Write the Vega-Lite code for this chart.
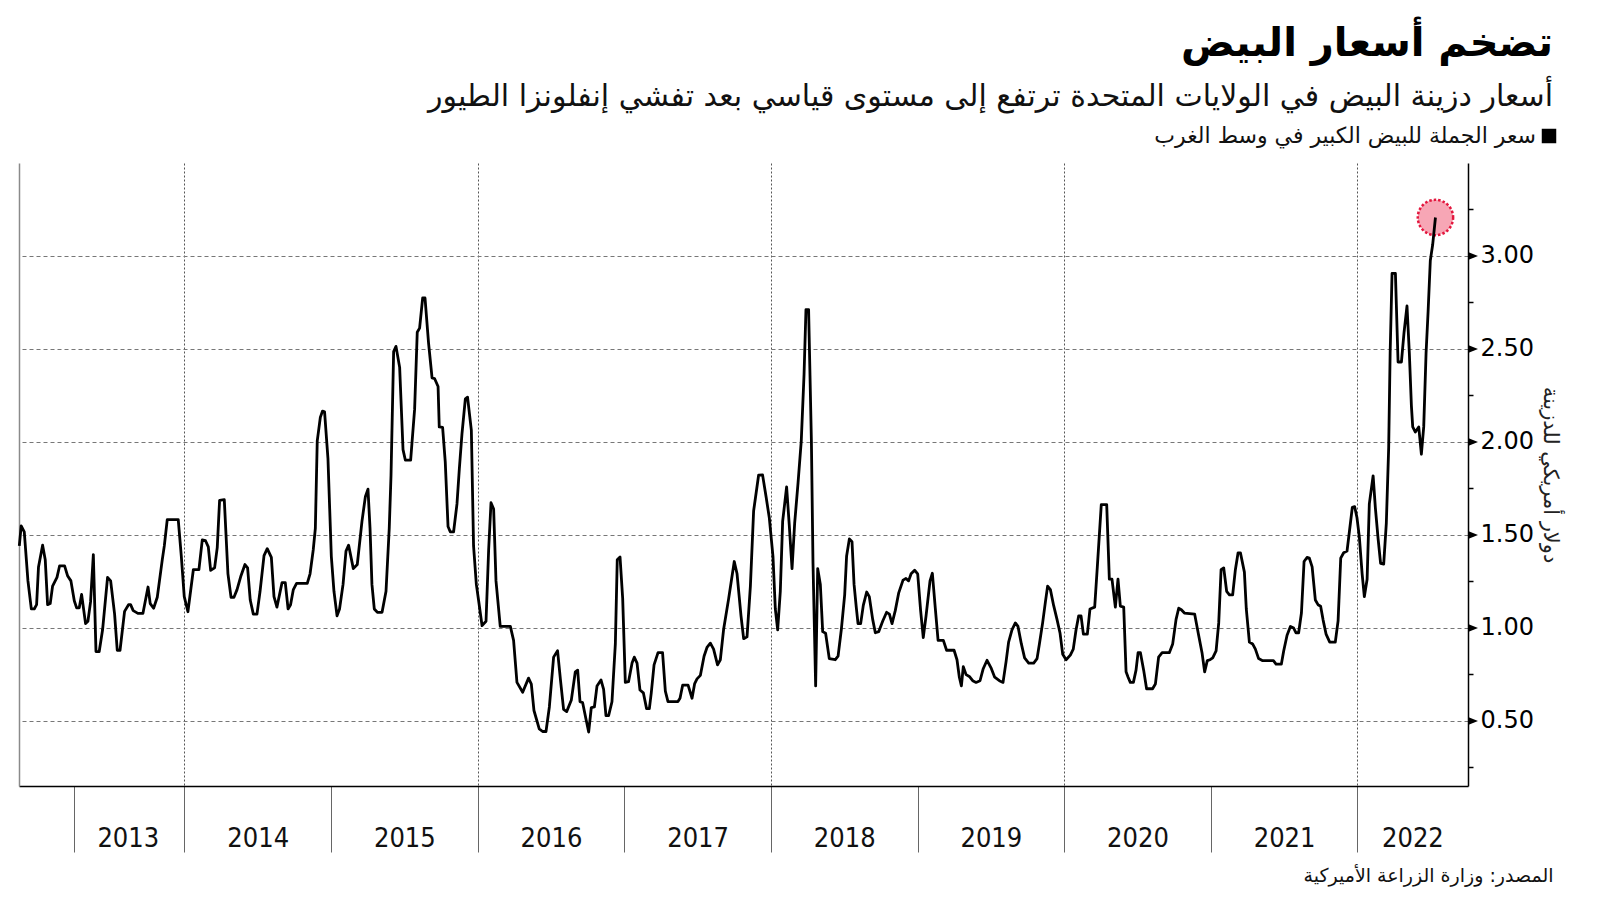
{
  "$schema": "https://vega.github.io/schema/vega-lite/v6.json",
  "width": 1449,
  "height": 623,
  "autosize": {"type": "none"},
  "padding": {"left": 19, "top": 163, "right": 132, "bottom": 115},
  "background": "white",
  "config": {"view": {"stroke": null}, "font": "DejaVu Sans", "axis": {"labelFlush": false, "labelOverlap": false}},
  "title": {
    "text": "تضخم أسعار البيض",
    "subtitle": "أسعار دزينة البيض في الولايات المتحدة ترتفع إلى مستوى قياسي بعد تفشي إنفلونزا الطيور",
    "anchor": "end",
    "frame": "group",
    "orient": "top",
    "font": "DejaVu Sans",
    "fontSize": 40,
    "fontWeight": "bold",
    "color": "#000000",
    "subtitleFont": "DejaVu Sans",
    "subtitleFontSize": 30,
    "subtitleColor": "#111111",
    "subtitlePadding": 18,
    "dx": 85,
    "offset": 13
  },
  "datasets": {
    "prices": [
      {"year": 2012.874, "price": 1.441}, {"year": 2012.887, "price": 1.549}, {"year": 2012.908, "price": 1.517}, {"year": 2012.933, "price": 1.253}, {"year": 2012.956, "price": 1.102}, {"year": 2012.976, "price": 1.102}, {"year": 2012.992, "price": 1.125}, {"year": 2013.005, "price": 1.328}, {"year": 2013.033, "price": 1.445}, {"year": 2013.051, "price": 1.366}, {"year": 2013.067, "price": 1.125}, {"year": 2013.085, "price": 1.131}, {"year": 2013.101, "price": 1.225}, {"year": 2013.131, "price": 1.272}, {"year": 2013.149, "price": 1.334}, {"year": 2013.183, "price": 1.334}, {"year": 2013.203, "price": 1.281}, {"year": 2013.226, "price": 1.253}, {"year": 2013.249, "price": 1.146}, {"year": 2013.265, "price": 1.108}, {"year": 2013.283, "price": 1.108}, {"year": 2013.299, "price": 1.18}, {"year": 2013.326, "price": 1.023}, {"year": 2013.342, "price": 1.036}, {"year": 2013.36, "price": 1.14}, {"year": 2013.379, "price": 1.394}, {"year": 2013.397, "price": 0.873}, {"year": 2013.419, "price": 0.873}, {"year": 2013.442, "price": 0.99}, {"year": 2013.476, "price": 1.272}, {"year": 2013.497, "price": 1.253}, {"year": 2013.524, "price": 1.074}, {"year": 2013.542, "price": 0.88}, {"year": 2013.561, "price": 0.88}, {"year": 2013.592, "price": 1.089}, {"year": 2013.619, "price": 1.125}, {"year": 2013.633, "price": 1.125}, {"year": 2013.651, "price": 1.093}, {"year": 2013.683, "price": 1.078}, {"year": 2013.717, "price": 1.078}, {"year": 2013.752, "price": 1.22}, {"year": 2013.767, "price": 1.131}, {"year": 2013.79, "price": 1.106}, {"year": 2013.815, "price": 1.165}, {"year": 2013.849, "price": 1.366}, {"year": 2013.863, "price": 1.441}, {"year": 2013.883, "price": 1.582}, {"year": 2013.958, "price": 1.582}, {"year": 2013.979, "price": 1.385}, {"year": 2013.999, "price": 1.168}, {"year": 2014.024, "price": 1.087}, {"year": 2014.061, "price": 1.313}, {"year": 2014.099, "price": 1.313}, {"year": 2014.122, "price": 1.473}, {"year": 2014.144, "price": 1.469}, {"year": 2014.163, "price": 1.436}, {"year": 2014.179, "price": 1.31}, {"year": 2014.206, "price": 1.323}, {"year": 2014.224, "price": 1.432}, {"year": 2014.24, "price": 1.686}, {"year": 2014.272, "price": 1.69},
      {"year": 2014.297, "price": 1.291}, {"year": 2014.318, "price": 1.165}, {"year": 2014.338, "price": 1.165}, {"year": 2014.359, "price": 1.206}, {"year": 2014.386, "price": 1.281}, {"year": 2014.413, "price": 1.341}, {"year": 2014.431, "price": 1.323}, {"year": 2014.449, "price": 1.15}, {"year": 2014.47, "price": 1.074}, {"year": 2014.495, "price": 1.074}, {"year": 2014.516, "price": 1.197}, {"year": 2014.543, "price": 1.389}, {"year": 2014.565, "price": 1.426}, {"year": 2014.593, "price": 1.379}, {"year": 2014.611, "price": 1.168}, {"year": 2014.631, "price": 1.112}, {"year": 2014.666, "price": 1.244}, {"year": 2014.688, "price": 1.244}, {"year": 2014.707, "price": 1.102}, {"year": 2014.724, "price": 1.125}, {"year": 2014.743, "price": 1.206}, {"year": 2014.765, "price": 1.24}, {"year": 2014.838, "price": 1.24}, {"year": 2014.857, "price": 1.291}, {"year": 2014.879, "price": 1.422}, {"year": 2014.893, "price": 1.535}, {"year": 2014.906, "price": 2.006}, {"year": 2014.927, "price": 2.132}, {"year": 2014.942, "price": 2.166}, {"year": 2014.956, "price": 2.162}, {"year": 2014.979, "price": 1.912}, {"year": 2015.002, "price": 1.385}, {"year": 2015.02, "price": 1.197}, {"year": 2015.041, "price": 1.065}, {"year": 2015.058, "price": 1.102}, {"year": 2015.082, "price": 1.234}, {"year": 2015.102, "price": 1.413}, {"year": 2015.12, "price": 1.445}, {"year": 2015.152, "price": 1.319}, {"year": 2015.179, "price": 1.341}, {"year": 2015.211, "price": 1.573}, {"year": 2015.234, "price": 1.705}, {"year": 2015.252, "price": 1.746}, {"year": 2015.266, "price": 1.535}, {"year": 2015.279, "price": 1.234}, {"year": 2015.295, "price": 1.102}, {"year": 2015.316, "price": 1.084}, {"year": 2015.348, "price": 1.084}, {"year": 2015.375, "price": 1.197}, {"year": 2015.397, "price": 1.535}, {"year": 2015.409, "price": 1.818}, {"year": 2015.427, "price": 2.486}, {"year": 2015.443, "price": 2.514}, {"year": 2015.468, "price": 2.401}, {"year": 2015.491, "price": 1.959}, {"year": 2015.507, "price": 1.902}, {"year": 2015.543, "price": 1.902}, {"year": 2015.57, "price": 2.175}, {"year": 2015.588, "price": 2.59}, {"year": 2015.604, "price": 2.612}, {"year": 2015.625, "price": 2.774}, {"year": 2015.641, "price": 2.774}, {"year": 2015.665, "price": 2.533}, {"year": 2015.689, "price": 2.345}, {"year": 2015.706, "price": 2.341}, {"year": 2015.73, "price": 2.298}, {"year": 2015.738, "price": 2.081}, {"year": 2015.761, "price": 2.078}, {"year": 2015.779, "price": 1.893}, {"year": 2015.798, "price": 1.545}, {"year": 2015.813, "price": 1.517}, {"year": 2015.836, "price": 1.517}, {"year": 2015.859, "price": 1.667}, {"year": 2015.875, "price": 1.855}, {"year": 2015.893, "price": 2.044}, {"year": 2015.916, "price": 2.232}, {"year": 2015.931, "price": 2.241}, {"year": 2015.957, "price": 2.062}, {"year": 2015.972, "price": 1.441}, {"year": 2015.991, "price": 1.234},
      {"year": 2016.006, "price": 1.15}, {"year": 2016.03, "price": 1.012}, {"year": 2016.057, "price": 1.036}, {"year": 2016.075, "price": 1.422}, {"year": 2016.091, "price": 1.673}, {"year": 2016.109, "price": 1.639}, {"year": 2016.125, "price": 1.253}, {"year": 2016.154, "price": 1.008}, {"year": 2016.223, "price": 1.008}, {"year": 2016.245, "price": 0.933}, {"year": 2016.268, "price": 0.707}, {"year": 2016.307, "price": 0.654}, {"year": 2016.347, "price": 0.73}, {"year": 2016.366, "price": 0.698}, {"year": 2016.384, "price": 0.556}, {"year": 2016.42, "price": 0.457}, {"year": 2016.443, "price": 0.443}, {"year": 2016.466, "price": 0.443}, {"year": 2016.489, "price": 0.575}, {"year": 2016.518, "price": 0.843}, {"year": 2016.545, "price": 0.877}, {"year": 2016.564, "price": 0.726}, {"year": 2016.586, "price": 0.562}, {"year": 2016.607, "price": 0.55}, {"year": 2016.639, "price": 0.613}, {"year": 2016.666, "price": 0.764}, {"year": 2016.682, "price": 0.773}, {"year": 2016.698, "price": 0.603}, {"year": 2016.716, "price": 0.598}, {"year": 2016.739, "price": 0.509}, {"year": 2016.757, "price": 0.44}, {"year": 2016.775, "price": 0.572}, {"year": 2016.796, "price": 0.575}, {"year": 2016.814, "price": 0.688}, {"year": 2016.841, "price": 0.72}, {"year": 2016.859, "price": 0.669}, {"year": 2016.875, "price": 0.528}, {"year": 2016.893, "price": 0.528}, {"year": 2016.916, "price": 0.603}, {"year": 2016.939, "price": 0.914}, {"year": 2016.952, "price": 1.366}, {"year": 2016.971, "price": 1.381}, {"year": 2016.989, "price": 1.159},
      {"year": 2017.007, "price": 0.707}, {"year": 2017.029, "price": 0.711}, {"year": 2017.053, "price": 0.811}, {"year": 2017.068, "price": 0.843}, {"year": 2017.087, "price": 0.811}, {"year": 2017.107, "price": 0.666}, {"year": 2017.13, "price": 0.651}, {"year": 2017.152, "price": 0.566}, {"year": 2017.171, "price": 0.566}, {"year": 2017.184, "price": 0.651}, {"year": 2017.203, "price": 0.801}, {"year": 2017.23, "price": 0.867}, {"year": 2017.261, "price": 0.867}, {"year": 2017.28, "price": 0.66}, {"year": 2017.298, "price": 0.604}, {"year": 2017.366, "price": 0.604}, {"year": 2017.38, "price": 0.622}, {"year": 2017.398, "price": 0.692}, {"year": 2017.435, "price": 0.692}, {"year": 2017.462, "price": 0.622}, {"year": 2017.48, "price": 0.701}, {"year": 2017.496, "price": 0.726}, {"year": 2017.519, "price": 0.745}, {"year": 2017.544, "price": 0.848}, {"year": 2017.564, "price": 0.895}, {"year": 2017.587, "price": 0.918}, {"year": 2017.609, "price": 0.886}, {"year": 2017.636, "price": 0.801}, {"year": 2017.655, "price": 0.829}, {"year": 2017.677, "price": 0.99}, {"year": 2017.712, "price": 1.159}, {"year": 2017.75, "price": 1.357}, {"year": 2017.769, "price": 1.291}, {"year": 2017.796, "price": 1.065}, {"year": 2017.814, "price": 0.942}, {"year": 2017.837, "price": 0.952}, {"year": 2017.86, "price": 1.225}, {"year": 2017.882, "price": 1.629}, {"year": 2017.916, "price": 1.821}, {"year": 2017.943, "price": 1.823}, {"year": 2017.967, "price": 1.705}, {"year": 2017.989, "price": 1.592},
      {"year": 2018.014, "price": 1.385}, {"year": 2018.03, "price": 1.102}, {"year": 2018.046, "price": 0.99}, {"year": 2018.064, "price": 1.197}, {"year": 2018.08, "price": 1.573}, {"year": 2018.107, "price": 1.758}, {"year": 2018.125, "price": 1.554}, {"year": 2018.144, "price": 1.319}, {"year": 2018.162, "price": 1.564}, {"year": 2018.185, "price": 1.78}, {"year": 2018.207, "price": 2.006}, {"year": 2018.226, "price": 2.364}, {"year": 2018.239, "price": 2.712}, {"year": 2018.257, "price": 2.712}, {"year": 2018.276, "price": 2.006}, {"year": 2018.287, "price": 1.347}, {"year": 2018.305, "price": 0.688}, {"year": 2018.319, "price": 1.319}, {"year": 2018.337, "price": 1.234}, {"year": 2018.353, "price": 0.98}, {"year": 2018.373, "price": 0.971}, {"year": 2018.398, "price": 0.835}, {"year": 2018.439, "price": 0.829}, {"year": 2018.458, "price": 0.848}, {"year": 2018.48, "price": 0.99}, {"year": 2018.503, "price": 1.178}, {"year": 2018.516, "price": 1.385}, {"year": 2018.535, "price": 1.479}, {"year": 2018.553, "price": 1.464}, {"year": 2018.567, "price": 1.234}, {"year": 2018.582, "price": 1.112}, {"year": 2018.594, "price": 1.023}, {"year": 2018.612, "price": 1.023}, {"year": 2018.63, "price": 1.121}, {"year": 2018.653, "price": 1.193}, {"year": 2018.671, "price": 1.168}, {"year": 2018.694, "price": 1.046}, {"year": 2018.712, "price": 0.974}, {"year": 2018.735, "price": 0.98}, {"year": 2018.762, "price": 1.036}, {"year": 2018.789, "price": 1.084}, {"year": 2018.808, "price": 1.074}, {"year": 2018.826, "price": 1.023}, {"year": 2018.848, "price": 1.093}, {"year": 2018.871, "price": 1.187}, {"year": 2018.901, "price": 1.257}, {"year": 2018.921, "price": 1.266}, {"year": 2018.939, "price": 1.253}, {"year": 2018.956, "price": 1.291}, {"year": 2018.98, "price": 1.31},
      {"year": 2019.001, "price": 1.291}, {"year": 2019.021, "price": 1.093}, {"year": 2019.039, "price": 0.948}, {"year": 2019.058, "price": 1.065}, {"year": 2019.085, "price": 1.253}, {"year": 2019.101, "price": 1.294}, {"year": 2019.121, "price": 1.106}, {"year": 2019.14, "price": 0.933}, {"year": 2019.176, "price": 0.933}, {"year": 2019.198, "price": 0.88}, {"year": 2019.249, "price": 0.88}, {"year": 2019.269, "price": 0.829}, {"year": 2019.285, "price": 0.735}, {"year": 2019.299, "price": 0.688}, {"year": 2019.312, "price": 0.792}, {"year": 2019.331, "price": 0.749}, {"year": 2019.353, "price": 0.739}, {"year": 2019.376, "price": 0.716}, {"year": 2019.399, "price": 0.707}, {"year": 2019.426, "price": 0.716}, {"year": 2019.447, "price": 0.779}, {"year": 2019.474, "price": 0.826}, {"year": 2019.503, "price": 0.782}, {"year": 2019.526, "price": 0.735}, {"year": 2019.558, "price": 0.716}, {"year": 2019.583, "price": 0.707}, {"year": 2019.604, "price": 0.82}, {"year": 2019.621, "price": 0.924}, {"year": 2019.644, "price": 0.99}, {"year": 2019.667, "price": 1.027}, {"year": 2019.685, "price": 1.008}, {"year": 2019.708, "price": 0.914}, {"year": 2019.73, "price": 0.839}, {"year": 2019.758, "price": 0.811}, {"year": 2019.792, "price": 0.811}, {"year": 2019.815, "price": 0.835}, {"year": 2019.831, "price": 0.914}, {"year": 2019.853, "price": 1.027}, {"year": 2019.872, "price": 1.14}, {"year": 2019.887, "price": 1.225}, {"year": 2019.906, "price": 1.206}, {"year": 2019.928, "price": 1.121}, {"year": 2019.951, "price": 1.046}, {"year": 2019.972, "price": 0.971}, {"year": 2019.99, "price": 0.858},
      {"year": 2020.013, "price": 0.829}, {"year": 2020.042, "price": 0.854}, {"year": 2020.062, "price": 0.886}, {"year": 2020.081, "price": 0.99}, {"year": 2020.099, "price": 1.065}, {"year": 2020.115, "price": 1.065}, {"year": 2020.131, "price": 0.967}, {"year": 2020.158, "price": 0.967}, {"year": 2020.176, "price": 1.102}, {"year": 2020.208, "price": 1.112}, {"year": 2020.226, "price": 1.328}, {"year": 2020.253, "price": 1.663}, {"year": 2020.29, "price": 1.663}, {"year": 2020.308, "price": 1.262}, {"year": 2020.326, "price": 1.262}, {"year": 2020.349, "price": 1.112}, {"year": 2020.367, "price": 1.262}, {"year": 2020.383, "price": 1.117}, {"year": 2020.406, "price": 1.112}, {"year": 2020.422, "price": 0.764}, {"year": 2020.436, "price": 0.735}, {"year": 2020.451, "price": 0.707}, {"year": 2020.472, "price": 0.707}, {"year": 2020.49, "price": 0.773}, {"year": 2020.504, "price": 0.867}, {"year": 2020.52, "price": 0.867}, {"year": 2020.542, "price": 0.773}, {"year": 2020.562, "price": 0.673}, {"year": 2020.603, "price": 0.673}, {"year": 2020.622, "price": 0.698}, {"year": 2020.644, "price": 0.843}, {"year": 2020.668, "price": 0.867}, {"year": 2020.717, "price": 0.867}, {"year": 2020.74, "price": 0.914}, {"year": 2020.763, "price": 1.046}, {"year": 2020.781, "price": 1.106}, {"year": 2020.799, "price": 1.098}, {"year": 2020.82, "price": 1.08}, {"year": 2020.89, "price": 1.074}, {"year": 2020.917, "price": 0.961}, {"year": 2020.94, "price": 0.867}, {"year": 2020.958, "price": 0.764}, {"year": 2020.976, "price": 0.824}, {"year": 2020.995, "price": 0.829},
      {"year": 2021.013, "price": 0.839}, {"year": 2021.036, "price": 0.876}, {"year": 2021.054, "price": 1.027}, {"year": 2021.07, "price": 1.313}, {"year": 2021.088, "price": 1.323}, {"year": 2021.108, "price": 1.197}, {"year": 2021.127, "price": 1.178}, {"year": 2021.149, "price": 1.178}, {"year": 2021.167, "price": 1.31}, {"year": 2021.186, "price": 1.404}, {"year": 2021.202, "price": 1.404}, {"year": 2021.229, "price": 1.3}, {"year": 2021.242, "price": 1.102}, {"year": 2021.263, "price": 0.924}, {"year": 2021.285, "price": 0.914}, {"year": 2021.304, "price": 0.886}, {"year": 2021.326, "price": 0.835}, {"year": 2021.354, "price": 0.824}, {"year": 2021.427, "price": 0.824}, {"year": 2021.445, "price": 0.805}, {"year": 2021.481, "price": 0.805}, {"year": 2021.497, "price": 0.876}, {"year": 2021.52, "price": 0.961}, {"year": 2021.543, "price": 1.008}, {"year": 2021.565, "price": 0.999}, {"year": 2021.581, "price": 0.974}, {"year": 2021.599, "price": 0.974}, {"year": 2021.618, "price": 1.08}, {"year": 2021.636, "price": 1.357}, {"year": 2021.656, "price": 1.379}, {"year": 2021.672, "price": 1.375}, {"year": 2021.691, "price": 1.328}, {"year": 2021.713, "price": 1.15}, {"year": 2021.731, "price": 1.125}, {"year": 2021.749, "price": 1.117}, {"year": 2021.766, "price": 1.042}, {"year": 2021.786, "price": 0.967}, {"year": 2021.811, "price": 0.924}, {"year": 2021.849, "price": 0.924}, {"year": 2021.868, "price": 1.038}, {"year": 2021.886, "price": 1.375}, {"year": 2021.906, "price": 1.404}, {"year": 2021.929, "price": 1.413}, {"year": 2021.945, "price": 1.517}, {"year": 2021.965, "price": 1.648}, {"year": 2021.981, "price": 1.652}, {"year": 2021.997, "price": 1.592},
      {"year": 2022.013, "price": 1.488}, {"year": 2022.032, "price": 1.291}, {"year": 2022.047, "price": 1.168}, {"year": 2022.066, "price": 1.262}, {"year": 2022.081, "price": 1.667}, {"year": 2022.107, "price": 1.818}, {"year": 2022.122, "price": 1.648}, {"year": 2022.141, "price": 1.479}, {"year": 2022.158, "price": 1.347}, {"year": 2022.179, "price": 1.343}, {"year": 2022.197, "price": 1.564}, {"year": 2022.213, "price": 1.968}, {"year": 2022.223, "price": 2.477}, {"year": 2022.236, "price": 2.906}, {"year": 2022.259, "price": 2.906}, {"year": 2022.277, "price": 2.43}, {"year": 2022.3, "price": 2.43}, {"year": 2022.318, "price": 2.59}, {"year": 2022.338, "price": 2.731}, {"year": 2022.354, "price": 2.477}, {"year": 2022.368, "price": 2.194}, {"year": 2022.377, "price": 2.081}, {"year": 2022.395, "price": 2.053}, {"year": 2022.418, "price": 2.081}, {"year": 2022.436, "price": 1.934}, {"year": 2022.452, "price": 2.081}, {"year": 2022.468, "price": 2.477}, {"year": 2022.482, "price": 2.703}, {"year": 2022.497, "price": 2.976}, {"year": 2022.513, "price": 3.06}, {"year": 2022.532, "price": 3.207}
    ],
    "majorTicks": [{"v": 0.5}, {"v": 1.0}, {"v": 1.5}, {"v": 2.0}, {"v": 2.5}, {"v": 3.0}]
  },
  "layer": [
    {
      "data": {"name": "prices"},
      "transform": [{"filter": "datum.year >= 2022.532"}],
      "mark": {"type": "circle", "size": 1250, "color": "#f7a6b5", "opacity": 1, "stroke": "#e3173e", "strokeWidth": 2.5, "strokeDash": [2.5, 2]},
      "encoding": {
        "x": {
          "field": "year", "type": "quantitative",
          "scale": {"domain": [2012.872, 2022.754], "nice": false, "zero": false},
          "axis": {
            "orient": "bottom",
            "values": [2013.614, 2014.5, 2015.5, 2016.5, 2017.5, 2018.5, 2019.5, 2020.5, 2021.5, 2022.375],
            "labelExpr": "'' + floor(datum.value)",
            "ticks": false, "domain": false, "grid": false,
            "labelFont": "DejaVu Sans Condensed, Liberation Sans Narrow, sans-serif",
            "labelFontSize": 27, "labelColor": "#111111", "labelPadding": 39,
            "title": "المصدر: وزارة الزراعة الأميركية",
            "titleFont": "DejaVu Sans", "titleFontSize": 19, "titleFontWeight": "normal", "titleColor": "#111111",
            "titleX": 1534, "titleY": 89, "titleAlign": "right", "titleBaseline": "middle", "titleAnchor": "end"
          }
        },
        "y": {
          "field": "price", "type": "quantitative",
          "scale": {"domain": [0.15, 3.5], "nice": false, "zero": false},
          "axis": {"orient": "left", "domain": true, "domainColor": "#8a8a8a", "domainWidth": 1.5, "ticks": false, "labels": false, "grid": false, "title": null}
        }
      }
    },
    {
      "data": {"name": "prices"},
      "mark": {"type": "line", "strokeWidth": 2.8, "strokeJoin": "round"},
      "encoding": {
        "x": {
          "field": "year", "type": "quantitative",
          "scale": {"domain": [2012.872, 2022.754], "nice": false, "zero": false},
          "axis": {
            "orient": "bottom",
            "values": [2013.25, 2014, 2015, 2016, 2017, 2018, 2019, 2020, 2021, 2022],
            "labels": false,
            "ticks": true, "tickSize": 66, "tickColor": "#666666", "tickWidth": 1,
            "domain": true, "domainColor": "#000000", "domainWidth": 1.5,
            "grid": true, "gridColor": "#555555", "gridDash": [2, 2], "gridWidth": 1,
            "gridOpacity": {"condition": {"test": "datum.value % 2 === 0", "value": 1}, "value": 0},
            "title": null
          }
        },
        "y": {
          "field": "price", "type": "quantitative",
          "scale": {"domain": [0.15, 3.5], "nice": false, "zero": false},
          "axis": {
            "orient": "right",
            "values": [0.25, 0.5, 0.75, 1, 1.25, 1.5, 1.75, 2, 2.25, 2.5, 2.75, 3, 3.25],
            "labelExpr": "round(datum.value * 4) % 2 === 0 ? format(datum.value, '.2f') : ''",
            "grid": true, "gridColor": "#777777", "gridDash": [4, 3], "gridWidth": 1,
            "gridOpacity": {"condition": {"test": "round(datum.value * 4) % 2 === 0", "value": 1}, "value": 0},
            "ticks": true, "tickSize": 5, "tickColor": "#000000", "tickWidth": 1.5,
            "domain": true, "domainColor": "#000000", "domainWidth": 1.5,
            "labelFont": "DejaVu Sans", "labelFontSize": 24, "labelColor": "#000000", "labelPadding": 7,
            "title": "دولار أمريكي للدزينة",
            "titleFont": "DejaVu Sans", "titleFontSize": 21, "titleFontWeight": "normal", "titleColor": "#222222",
            "titlePadding": 6, "titleAngle": 90
          }
        },
        "color": {
          "datum": "سعر الجملة للبيض الكبير في وسط الغرب",
          "type": "nominal",
          "scale": {"range": ["#000000"]},
          "legend": {
            "orient": "none", "legendX": 1519, "legendY": -38, "title": null, "padding": 0, "offset": 0,
            "symbolType": "square", "symbolSize": 210, "symbolFillColor": "#000000", "symbolStrokeColor": "#000000", "symbolStrokeWidth": 0,
            "labelAlign": "right", "labelOffset": -24,
            "labelFont": "DejaVu Sans", "labelFontSize": 22, "labelColor": "#111111", "labelLimit": 0
          }
        }
      }
    },
    {
      "data": {"name": "majorTicks"},
      "mark": {"type": "point", "shape": "M0,-0.4L1,0L0,0.4Z", "size": 400, "filled": true, "color": "#000000", "opacity": 1},
      "encoding": {
        "x": {"datum": 2022.754, "type": "quantitative", "scale": {"domain": [2012.872, 2022.754], "nice": false, "zero": false}, "axis": null},
        "y": {"field": "v", "type": "quantitative", "scale": {"domain": [0.15, 3.5], "nice": false, "zero": false}, "axis": null}
      }
    }
  ],
  "resolve": {"axis": {"x": "independent", "y": "independent"}}
}
